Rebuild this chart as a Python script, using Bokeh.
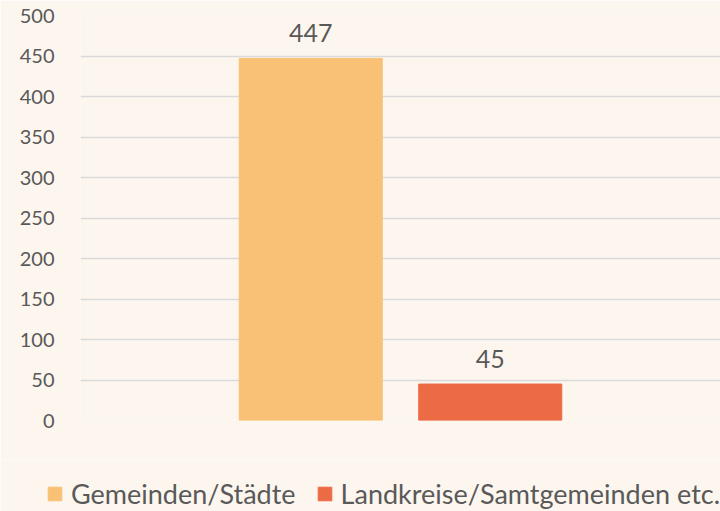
from bokeh.plotting import figure
from bokeh.layouts import column
from bokeh.models import FactorRange, Range1d, Legend, LegendItem, ColumnDataSource, SingleIntervalTicker
from bokeh.core.properties import value
from bokeh.embed import file_html
from bokeh.resources import INLINE

series = ["Gemeinden/Städte", "Landkreise/Samtgemeinden etc."]
values = [447, 45]
colors = ["#F9C176", "#EC6B44"]
labels = [str(v) for v in values]

FONT = "Lato"
TXT = "#595959"
BG = "#FDF6EF"

src = ColumnDataSource(dict(x=series, top=values, color=colors, label=labels))

p = figure(width=720, height=460, output_backend="svg", toolbar_location=None,
           x_range=FactorRange(factors=series, range_padding=0.783),
           y_range=Range1d(0, 500))
p.background_fill_color = BG
p.border_fill_color = BG
p.border_fill_alpha = 1
p.outline_line_color = None
p.min_border_left = 80
p.min_border_right = 0
p.min_border_top = 15
p.min_border_bottom = 40
p.frame_align = False

p.vbar(x="x", top="top", width=0.797, color="color", source=src)
p.text(x="x", y="top", text="label", source=src, text_align="center", text_baseline="bottom",
       y_offset=-16, text_font=value(FONT), text_font_size="25px", text_color=TXT)

p.xaxis.visible = False
p.xgrid.visible = False
p.yaxis.ticker = SingleIntervalTicker(interval=50)
p.yaxis.axis_line_color = None
p.yaxis.major_tick_line_color = None
p.yaxis.minor_tick_line_color = None
p.yaxis.major_label_standoff = 20
p.yaxis.major_label_text_font = FONT
p.yaxis.major_label_text_font_size = "20px"
p.yaxis.major_label_text_color = TXT
p.ygrid.grid_line_color = "#D9D9D9"
p.ygrid.grid_line_width = 1.5

# legend strip
q = figure(width=720, height=51, output_backend="svg", toolbar_location=None,
           x_range=FactorRange(factors=series), y_range=Range1d(0, 1))
q.background_fill_color = BG
q.border_fill_color = BG
q.border_fill_alpha = 1
q.outline_line_color = None
q.min_border_left = 0
q.min_border_right = 0
q.min_border_top = 0
q.min_border_bottom = 0
q.frame_align = False
q.axis.visible = False
q.grid.visible = False

items = []
for i, s in enumerate(series):
    g = q.vbar(x=[s], top=[-2], bottom=[-3], width=0.5, color=colors[i])
    items.append(LegendItem(label=s, renderers=[g]))
legend = Legend(items=items, orientation="horizontal", location=(46, 1),
                label_text_font=FONT, label_text_font_size="27px", label_text_color=TXT,
                glyph_width=17, glyph_height=17, spacing=20, label_standoff=8,
                background_fill_alpha=0, border_line_color=None, padding=0, margin=0)
q.add_layout(legend, "center")

layout = column(p, q, spacing=0)
open("out.html", "w").write(file_html(layout, INLINE))
